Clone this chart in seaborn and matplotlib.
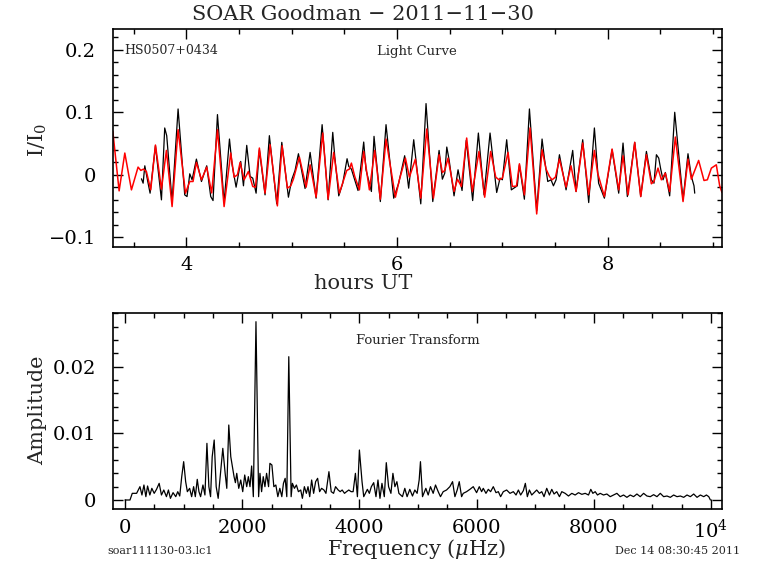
import numpy as np
import matplotlib
matplotlib.use("Agg")
import matplotlib.pyplot as plt
from matplotlib.ticker import MultipleLocator
import seaborn as sns

# light curve (black), hours UT vs I/I0
lc_time = [3.573, 3.589, 3.605, 3.630, 3.655, 3.706, 3.763, 3.794, 3.813, 3.864,
           3.921, 3.984, 4.006, 4.032, 4.054, 4.095, 4.143, 4.168, 4.193, 4.231,
           4.253, 4.295, 4.358, 4.409, 4.434, 4.472, 4.516, 4.542, 4.573, 4.605,
           4.630, 4.662, 4.693, 4.747, 4.788, 4.858, 4.906, 4.969, 5.000, 5.032,
           5.064, 5.086, 5.127, 5.175, 5.232, 5.289, 5.346, 5.390, 5.409, 5.447,
           5.485, 5.526, 5.542, 5.567, 5.599, 5.630, 5.684, 5.706, 5.757, 5.782,
           5.842, 5.896, 5.969, 6.016, 6.073, 6.111, 6.159, 6.226, 6.276, 6.340,
           6.400, 6.431, 6.454, 6.473, 6.495, 6.542, 6.580, 6.618, 6.658, 6.719,
           6.773, 6.827, 6.884, 6.947, 6.979, 7.001, 7.042, 7.086, 7.143, 7.163,
           7.210, 7.258, 7.327, 7.378, 7.400, 7.432, 7.463, 7.486, 7.511, 7.543,
           7.606, 7.669, 7.701, 7.764, 7.821, 7.875, 7.915, 7.970, 8.043, 8.106,
           8.147, 8.188, 8.258, 8.315, 8.369, 8.416, 8.441, 8.464, 8.486, 8.505,
           8.527, 8.549, 8.590, 8.638, 8.717, 8.764, 8.796, 8.821, 8.828]
lc_flux = [-0.0064, -0.0134, 0.0144, -0.0080, -0.0294, 0.0465, -0.0401, 0.0749, 0.0626, -0.0428,
           0.1053, -0.0321, -0.0348, 0.0016, -0.0080, 0.0251, -0.0107, 0.0016, 0.0144, -0.0348,
           -0.0412, 0.0963, -0.0444, 0.0572, 0.0160, -0.0198, 0.0214, -0.0176, 0.0471, -0.0027,
           -0.0053, -0.0294, 0.0401, -0.0321, 0.0626, -0.0465, 0.0519, -0.0358, -0.0080, 0.0070,
           0.0337, 0.0144, -0.0219, 0.0358, -0.0374, 0.0802, -0.0401, 0.0679, 0.0294, -0.0337,
           -0.0134, 0.0257, 0.0134, 0.0091, -0.0080, -0.0251, 0.0524, 0.0080, -0.0267, 0.0615,
           -0.0428, 0.0802, -0.0374, -0.0134, 0.0305, -0.0214, 0.0561, -0.0465, 0.1139, -0.0428,
           0.0390, -0.0070, 0.0027, 0.0444, 0.0241, -0.0337, 0.0080, -0.0251, 0.0550, -0.0412,
           0.0668, -0.0321, 0.0668, -0.0283, -0.0053, -0.0080, 0.0561, -0.0241, -0.0176, 0.0160,
           -0.0390, 0.1053, -0.0572, 0.0572, 0.0267, -0.0107, -0.0080, -0.0176, -0.0080, 0.0321,
           -0.0241, 0.0390, -0.0267, 0.0561, -0.0444, 0.0749, -0.0134, -0.0374, 0.0401, -0.0294,
           0.0508, -0.0348, 0.0519, -0.0348, 0.0374, -0.0080, -0.0134, 0.0321, 0.0267, 0.0091,
           -0.0080, 0.0037, -0.0337, 0.1000, -0.0401, 0.0337, -0.0027, -0.0176, -0.0294]

# multi-sine fit (red)
fit_time = [3.301, 3.361, 3.415, 3.478, 3.541, 3.567, 3.592, 3.620, 3.661, 3.706,
            3.763, 3.810, 3.864, 3.921, 3.991, 4.032, 4.063, 4.095, 4.143, 4.193,
            4.240, 4.295, 4.358, 4.421, 4.453, 4.485, 4.510, 4.548, 4.589, 4.630,
            4.656, 4.693, 4.747, 4.795, 4.864, 4.909, 4.959, 4.991, 5.016, 5.073,
            5.137, 5.175, 5.232, 5.295, 5.346, 5.399, 5.453, 5.494, 5.523, 5.548,
            5.567, 5.599, 5.643, 5.684, 5.738, 5.789, 5.842, 5.896, 5.985, 6.023,
            6.080, 6.118, 6.175, 6.226, 6.283, 6.346, 6.400, 6.431, 6.454, 6.485,
            6.542, 6.574, 6.612, 6.662, 6.716, 6.779, 6.833, 6.890, 6.938, 6.969,
            7.001, 7.055, 7.096, 7.135, 7.163, 7.210, 7.264, 7.327, 7.378, 7.416,
            7.448, 7.473, 7.505, 7.543, 7.606, 7.653, 7.701, 7.764, 7.821, 7.875,
            7.906, 7.970, 8.043, 8.106, 8.147, 8.195, 8.258, 8.315, 8.369, 8.416,
            8.441, 8.479, 8.511, 8.549, 8.590, 8.644, 8.717, 8.764, 8.796, 8.865,
            8.916, 8.948, 8.986, 9.033, 9.065, 9.087]
fit_flux = [0.0695, -0.0257, 0.0348, -0.0241, 0.0123, 0.0070, 0.0091, 0.0053, -0.0241, 0.0476,
            -0.0230, 0.0390, -0.0508, 0.0722, -0.0294, -0.0107, -0.0107, 0.0198, -0.0080, 0.0123,
            -0.0290, 0.0722, -0.0508, 0.0348, -0.0037, 0.0000, 0.0198, -0.0080, 0.0053, -0.0187,
            -0.0198, 0.0428, -0.0294, 0.0481, -0.0497, 0.0465, -0.0214, -0.0176, -0.0070, 0.0283,
            -0.0198, 0.0160, -0.0358, 0.0668, -0.0390, 0.0358, -0.0294, -0.0080, 0.0070, 0.0091,
            0.0187, -0.0027, -0.0241, 0.0374, -0.0241, 0.0390, -0.0390, 0.0572, -0.0358, -0.0080,
            0.0267, -0.0037, 0.0251, -0.0374, 0.0733, -0.0374, 0.0321, 0.0037, 0.0070, 0.0267,
            -0.0267, -0.0070, -0.0187, 0.0588, -0.0267, 0.0374, -0.0358, 0.0374, -0.0037, -0.0080,
            -0.0053, 0.0358, -0.0187, -0.0180, 0.0176, -0.0321, 0.0749, -0.0626, 0.0401, 0.0091,
            -0.0027, -0.0080, -0.0037, 0.0251, -0.0198, 0.0144, -0.0267, 0.0508, -0.0321, 0.0390,
            0.0027, -0.0348, 0.0412, -0.0241, 0.0305, -0.0321, 0.0519, -0.0348, 0.0321, -0.0144,
            -0.0107, 0.0107, -0.0080, 0.0027, -0.0267, 0.0604, -0.0428, 0.0251, -0.0070, 0.0230,
            -0.0091, -0.0080, 0.0107, 0.0160, -0.0176, -0.0283]

# Fourier transform amplitude spectrum
ft_freq = [0, 85, 124, 198, 255, 289, 323, 356, 385, 424, 458, 498, 538, 583, 622, 662,
           707, 741, 775, 820, 866, 900, 934, 968, 1001, 1035, 1064, 1103, 1137, 1171, 1200,
           1233, 1262, 1290, 1330, 1364, 1398, 1431, 1460, 1488, 1522, 1556, 1590, 1624, 1669,
           1709, 1737, 1771, 1805, 1828, 1861, 1884, 1907, 1941, 1975, 2009, 2043, 2077, 2105,
           2133, 2161, 2190, 2235, 2280, 2303, 2331, 2359, 2388, 2416, 2450, 2473, 2507, 2540,
           2574, 2608, 2642, 2676, 2704, 2733, 2761, 2795, 2835, 2857, 2891, 2925, 2959, 2999,
           3027, 3061, 3095, 3123, 3152, 3185, 3219, 3253, 3287, 3321, 3355, 3395, 3429, 3480,
           3519, 3559, 3593, 3638, 3672, 3706, 3746, 3780, 3819, 3859, 3893, 3932, 3966, 4000,
           4045, 4074, 4102, 4136, 4170, 4204, 4244, 4283, 4317, 4351, 4385, 4425, 4459, 4498,
           4538, 4572, 4606, 4640, 4674, 4735, 4775, 4814, 4860, 4906, 4946, 4985, 5020, 5042,
           5077, 5134, 5174, 5213, 5259, 5299, 5345, 5384, 5430, 5487, 5544, 5590, 5630, 5669,
           5704, 5744, 5772, 5829, 5886, 5943, 6000, 6046, 6086, 6114, 6160, 6200, 6239, 6285,
           6331, 6371, 6410, 6456, 6513, 6570, 6627, 6673, 6713, 6752, 6798, 6832, 6866, 6901,
           6941, 6980, 7026, 7072, 7112, 7151, 7197, 7243, 7283, 7322, 7368, 7414, 7454, 7511,
           7568, 7625, 7682, 7739, 7796, 7853, 7910, 7949, 7984, 8024, 8063, 8109, 8166, 8223,
           8280, 8337, 8394, 8451, 8508, 8565, 8622, 8679, 8736, 8793, 8850, 8907, 8964, 9021,
           9078, 9135, 9192, 9249, 9306, 9363, 9420, 9477, 9534, 9591, 9648, 9705, 9762, 9819,
           9876, 9922, 9962, 9990]
ft_amp = [0.0, 0.0, 0.0010, 0.0010, 0.0020, 0.00075, 0.00225, 0.0005, 0.0021, 0.00075, 0.00175,
          0.0010, 0.0016, 0.0025, 0.00075, 0.0015, 0.0005, 0.0015, 0.00025, 0.0011, 0.0005,
          0.00125, 0.0006, 0.0035, 0.00575, 0.00275, 0.00125, 0.00175, 0.0005, 0.0020, 0.0005,
          0.0031, 0.00125, 0.0005, 0.00225, 0.00075, 0.0085, 0.0020, 0.0005, 0.0065, 0.0090,
          0.0020, 0.00025, 0.0035, 0.00775, 0.0040, 0.00175, 0.01125, 0.0065, 0.00525, 0.0035,
          0.0026, 0.0040, 0.00175, 0.0030, 0.00125, 0.00375, 0.0020, 0.0035, 0.0020, 0.0051,
          0.0005, 0.02675, 0.0005, 0.0040, 0.00125, 0.0035, 0.0020, 0.0040, 0.0020, 0.0055,
          0.00525, 0.0020, 0.00225, 0.0005, 0.00175, 0.0005, 0.0025, 0.00325, 0.0005, 0.0215,
          0.0005, 0.0025, 0.00175, 0.00225, 0.00125, 0.0015, 0.00025, 0.0020, 0.0010, 0.0020,
          0.0005, 0.0030, 0.0010, 0.00275, 0.00325, 0.00125, 0.00175, 0.0015, 0.0010, 0.00425,
          0.00125, 0.0010, 0.0020, 0.0015, 0.00125, 0.0015, 0.0010, 0.00125, 0.0015, 0.00125,
          0.00125, 0.0040, 0.0005, 0.0075, 0.00275, 0.0005, 0.0010, 0.0016, 0.0010, 0.0020,
          0.0026, 0.0005, 0.0030, 0.00025, 0.0025, 0.0005, 0.0056, 0.0020, 0.0010, 0.0040,
          0.0020, 0.00275, 0.0010, 0.0005, 0.00175, 0.0005, 0.0016, 0.0006, 0.0015, 0.0010,
          0.0030, 0.00575, 0.0005, 0.00175, 0.00075, 0.0020, 0.0010, 0.00225, 0.00125, 0.0005,
          0.00125, 0.0015, 0.0020, 0.00275, 0.0005, 0.0015, 0.00275, 0.0005, 0.0010, 0.00125,
          0.0016, 0.0020, 0.0011, 0.0020, 0.00125, 0.00175, 0.0010, 0.0016, 0.00125, 0.0020,
          0.0011, 0.00125, 0.0005, 0.00125, 0.0015, 0.0010, 0.00125, 0.00075, 0.0015, 0.00075,
          0.0014, 0.0025, 0.0005, 0.0015, 0.00075, 0.0011, 0.0015, 0.0010, 0.00125, 0.0005,
          0.00175, 0.00075, 0.0016, 0.0009, 0.00125, 0.0005, 0.00125, 0.0010, 0.0006, 0.0010,
          0.00075, 0.0011, 0.00085, 0.0010, 0.00075, 0.0016, 0.0010, 0.00125, 0.00075, 0.0010,
          0.00075, 0.0009, 0.0005, 0.00075, 0.0010, 0.0005, 0.00075, 0.0004, 0.00075, 0.0005,
          0.0009, 0.0005, 0.0010, 0.0006, 0.0005, 0.0008, 0.0005, 0.0010, 0.0005, 0.0006,
          0.0004, 0.00075, 0.0005, 0.0006, 0.0004, 0.00075, 0.0005, 0.0009, 0.0004, 0.00075,
          0.0005, 0.00075, 0.0005, 0.0]

lc_yticks = [-0.1, 0, 0.1, 0.2]
lc_yticklabels = ["\u22120.1", "0", "0.1", "0.2"]
lc_xticks = [4, 6, 8]
ft_xticks = [0, 2000, 4000, 6000, 8000, 10000]
ft_xticklabels = ["0", "2000", "4000", "6000", "8000", "10$^4$"]
ft_yticks = [0, 0.01, 0.02]
ft_yticklabels = ["0", "0.01", "0.02"]

sns.set_style("ticks")
plt.rcParams["font.family"] = ["DejaVu Serif"]
plt.rcParams["mathtext.fontset"] = "dejavuserif"

fig = plt.figure(figsize=(7.68, 5.74), dpi=100)
W, H = 768, 574


def px_axes(l, t, r, b):
    return fig.add_axes([l / W, 1 - b / H, (r - l) / W, (b - t) / H])


def style_axes(ax):
    ax.tick_params(which="both", direction="in", top=True, right=True,
                   labelsize=14, colors="black", width=1)
    ax.tick_params(which="major", length=7)
    ax.tick_params(which="minor", length=3.5)
    ax.tick_params(axis="x", which="major", pad=7)
    ax.tick_params(axis="y", which="major", pad=12)
    for s in ax.spines.values():
        s.set_linewidth(1.2)
        s.set_color("black")


ax1 = px_axes(112.7, 28.5, 722, 246.7)
sns.lineplot(x=lc_time, y=lc_flux, ax=ax1, color="black", lw=0.9,
             estimator=None, sort=False)
sns.lineplot(x=fit_time, y=fit_flux, ax=ax1, color="#ff0000", lw=1.1,
             estimator=None, sort=False)
ax1.set_xlim(3.30, 9.087)
ax1.set_ylim(-0.115, 0.234)
ax1.set_xticks(lc_xticks)
ax1.set_yticks(lc_yticks, lc_yticklabels)
ax1.xaxis.set_minor_locator(MultipleLocator(0.5))
ax1.yaxis.set_minor_locator(MultipleLocator(0.02))
ax1.set_xlabel("")
ax1.set_ylabel("")
style_axes(ax1)

ax2 = px_axes(112.7, 312.7, 722, 509)
sns.lineplot(x=ft_freq, y=ft_amp, ax=ax2, color="black", lw=0.9,
             estimator=None, sort=False)
ax2.set_xlim(-210, 10188)
ax2.set_ylim(-0.00135, 0.0281)
ax2.set_xticks(ft_xticks, ft_xticklabels)
ax2.set_yticks(ft_yticks, ft_yticklabels)
ax2.xaxis.set_minor_locator(MultipleLocator(500))
ax2.yaxis.set_minor_locator(MultipleLocator(0.002))
ax2.set_xlabel("")
ax2.set_ylabel("")
style_axes(ax2)

# labels placed in pixel positions of the original page
fig.text(363 / W, 1 - 14 / H, "SOAR Goodman \u2212 2011\u221211\u221230",
         ha="center", va="center", fontsize=15)
fig.text(363 / W, 1 - 284 / H, "hours UT", ha="center", va="center", fontsize=15)
fig.text(38 / W, 1 - 140 / H, "I/I$_0$", ha="center", va="center",
         rotation=90, fontsize=15)
fig.text(416 / W, 1 - 549 / H, "Frequency ($\\mu$Hz)", ha="center", va="center",
         fontsize=15)
fig.text(38 / W, 1 - 410 / H, "Amplitude", ha="center", va="center",
         rotation=90, fontsize=15)
fig.text(124 / W, 1 - 51 / H, "HS0507+0434", ha="left", va="center", fontsize=9)
fig.text(417 / W, 1 - 51 / H, "Light Curve", ha="center", va="center", fontsize=9.5)
fig.text(418 / W, 1 - 341 / H, "Fourier Transform", ha="center", va="center",
         fontsize=9.5)
fig.text(107 / W, 1 - 551 / H, "soar111130-03.lc1", ha="left", va="center", fontsize=8)
fig.text(740 / W, 1 - 551 / H, "Dec 14 08:30:45 2011", ha="right", va="center",
         fontsize=8)

fig.savefig("out.png", dpi=100, facecolor="white")
